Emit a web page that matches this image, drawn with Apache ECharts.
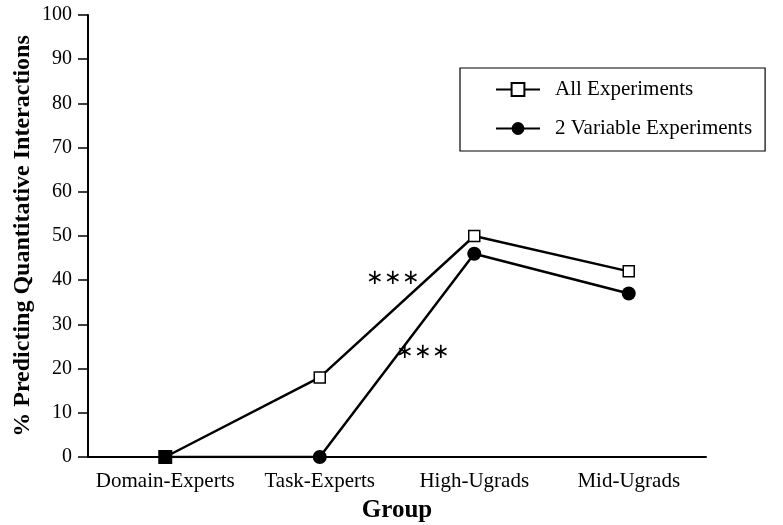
<!DOCTYPE html>
<html><head><meta charset="utf-8">
<script src="https://cdn.jsdelivr.net/npm/echarts@6/dist/echarts.min.js"></script>
<style>html,body{margin:0;padding:0;background:#fff}#c{width:783px;height:525px}</style>
</head><body><div id="c"></div>
<script>
const categories = ['Domain-Experts', 'Task-Experts', 'High-Ugrads', 'Mid-Ugrads'];
const allExperiments = [0, 18, 50, 42];
const twoVariable = [0, 0, 46, 37];
const seriesNames = ['All Experiments', '2 Variable Experiments'];
const yTicks = [0, 10, 20, 30, 40, 50, 60, 70, 80, 90, 100];

const FONT = '"Liberation Serif", "Times New Roman", serif';
const chart = echarts.init(document.getElementById('c'), null, {renderer: 'canvas'});

const twoVarData = twoVariable.map((v, i) => i === 0
  ? {value: v, symbol: 'rect', symbolSize: 14}
  : v);

chart.setOption({
  animation: false,
  backgroundColor: '#fff',
  textStyle: {fontFamily: FONT, color: '#000'},
  grid: {left: 88, right: 77, top: 15, bottom: 68, containLabel: false, outerBoundsMode: 'none'},
  legend: {
    orient: 'vertical',
    left: 460, top: 68,
    padding: [11, 13, 12, 35],
    borderColor: '#000', borderWidth: 1.2,
    itemWidth: 44, itemHeight: 16, itemGap: 18, itemTextGap: 17,
    textStyle: {fontFamily: FONT, fontSize: 21, color: '#000', padding: [0, 0, 0, 10]},
    data: seriesNames
  },
  xAxis: {
    type: 'category', data: categories, boundaryGap: true,
    name: 'Group', nameLocation: 'middle', nameGap: 41,
    nameTextStyle: {fontFamily: FONT, fontSize: 25, fontWeight: 'bold', color: '#000'},
    axisLine: {lineStyle: {color: '#000', width: 2}},
    axisTick: {alignWithLabel: true, length: 7, lineStyle: {color: '#000', width: 1.5}},
    axisLabel: {fontFamily: FONT, fontSize: 21, color: '#000', margin: 14, interval: 0, hideOverlap: false},
    splitLine: {show: false}
  },
  yAxis: {
    type: 'value', min: 0, max: 100, interval: 10,
    name: '% Predicting Quantitative Interactions', nameLocation: 'middle', nameGap: 53,
    nameMoveOverlap: false,
    nameTextStyle: {fontFamily: FONT, fontSize: 24, fontWeight: 'bold', color: '#000'},
    axisLine: {show: true, lineStyle: {color: '#000', width: 2}},
    axisTick: {show: true, length: 10, lineStyle: {color: '#000', width: 1.5}},
    axisLabel: {fontFamily: FONT, fontSize: 20, color: '#000', margin: 16,
      formatter: v => yTicks.includes(v) ? String(v) : ''},
    splitLine: {show: false}
  },
  series: [
    {
      name: seriesNames[0], type: 'line', data: allExperiments,
      symbol: 'rect', symbolSize: 11, z: 2,
      lineStyle: {color: '#000', width: 2.5},
      itemStyle: {color: '#fff', borderColor: '#000', borderWidth: 1.5}
    },
    {
      name: seriesNames[1], type: 'line', data: twoVarData,
      symbol: 'circle', symbolSize: 14, z: 3,
      lineStyle: {color: '#000', width: 2.5},
      itemStyle: {color: '#000', borderColor: '#000', borderWidth: 0}
    }
  ],
  graphic: [
    {type: 'text', left: 366, top: 268, style: {text: '∗∗∗', font: '21px ' + FONT, fill: '#000'}},
    {type: 'text', left: 396, top: 342, style: {text: '∗∗∗', font: '21px ' + FONT, fill: '#000'}}
  ]
});
</script></body></html>
